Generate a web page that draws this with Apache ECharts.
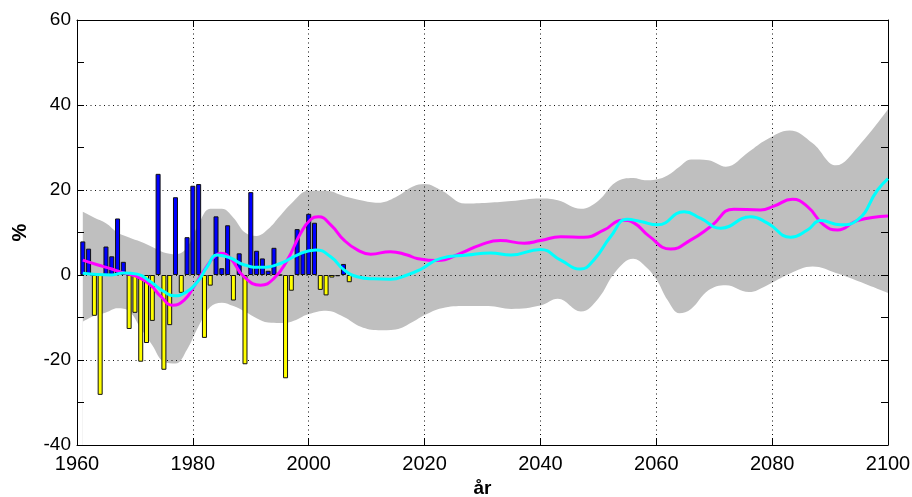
<!DOCTYPE html>
<html>
<head>
<meta charset="utf-8">
<script src="https://cdn.jsdelivr.net/npm/echarts@6/dist/echarts.min.js"></script>
<style>
  html, body { margin: 0; padding: 0; background: #fff; }
  #chart { width: 912px; height: 497px; }
</style>
</head>
<body>
<div id="chart"></div>
<script>
// Axis ticks
const xTicks = [1960, 1980, 2000, 2020, 2040, 2060, 2080, 2100];
const yTicks = [-40, -20, 0, 20, 40, 60];

// Observed yearly anomalies (%)
const barYears = [
  1961, 1962, 1963, 1964, 1965, 1966, 1967, 1968, 1969, 1970,
  1971, 1972, 1973, 1974, 1975, 1976, 1977, 1978, 1979, 1980,
  1981, 1982, 1983, 1984, 1985, 1986, 1987, 1988, 1989, 1990,
  1991, 1992, 1993, 1994, 1995, 1996, 1997, 1998, 1999, 2000,
  2001, 2002, 2003, 2004, 2005, 2006, 2007
];
const barValues = [
  7.9, 6.2, -9.6, -28.2, 6.7, 4.4, 13.3, 3.1, -12.7, -8.9,
  -20.4, -16.0, -10.8, 23.8, -22.3, -11.8, 18.3, -4.2, 8.9, 21.0,
  21.4, -14.8, -2.5, 13.8, 1.6, 11.7, -6.0, 5.1, -21.0, 19.5,
  5.7, 3.9, 1.0, 6.4, 0.0, -24.3, -3.7, 10.8, 5.3, 14.4,
  12.3, -3.5, -4.8, -0.6, -0.3, 2.6, -1.7
];

// Model spread (lower and upper envelope, %)
const bandYears = [
  1961, 1963, 1965, 1967, 1969, 1971, 1973, 1975, 1977, 1979,
  1981, 1983, 1985, 1987, 1989, 1991, 1993, 1995, 1997, 2000,
  2003, 2006, 2009, 2012, 2015, 2018, 2020, 2023, 2027, 2031,
  2035, 2040, 2043, 2047, 2050, 2053, 2056, 2058, 2060, 2062,
  2064, 2066, 2069, 2072, 2076, 2079, 2083, 2087, 2091, 2095, 2100
];
const bandLow = [
  -11.0, -9.6, -8.8, -7.8, -8.5, -12.5, -16.5, -20.4, -20.8, -17.5,
  -12.0, -7.5, -6.5, -7.3, -8.6, -10.2, -11.2, -11.3, -11.0, -9.2,
  -8.4, -9.8, -12.2, -13.0, -12.8, -11.0, -9.4, -7.8, -7.3, -7.3,
  -8.0, -7.2, -5.6, -8.6, -5.5, 0.8, 3.8, 2.2, -1.0, -6.0,
  -9.0, -8.0, -3.6, -2.4, -4.0, -2.5, 0.3, 2.0, 0.5, -1.5, -4.2
];
const bandHigh = [
  14.9, 13.5, 12.2, 10.0, 8.8, 7.8, 6.6, 5.3, 4.9, 6.5,
  12.0, 15.6, 15.6, 13.5, 10.0, 9.2, 10.8, 13.8, 16.8, 19.8,
  19.8, 18.6, 17.6, 17.0, 18.3, 20.8, 21.4, 19.8, 16.8, 17.0,
  17.4, 18.0, 17.6, 15.6, 17.5, 21.8, 22.8, 22.3, 22.5, 23.5,
  25.5, 27.2, 27.0, 25.5, 29.0, 31.8, 34.0, 31.0, 25.8, 30.5, 39.0
];

// Smoothed curve (magenta)
const magentaYears = [
  1961, 1963.5, 1966, 1968, 1970.4, 1972.7, 1974.5, 1976.5, 1978.5, 1980.2,
  1982, 1983.7, 1984.8, 1986.5, 1988.8, 1991.7, 1994, 1996.3, 1998.6, 2000.3,
  2001.7, 2003.8, 2006.1, 2008.4, 2010.7, 2014.1, 2017, 2018.7, 2022.2, 2026.2,
  2029.7, 2033.1, 2037.2, 2040, 2043.5, 2047.5, 2051, 2054.1, 2056.2, 2058.7,
  2062.5, 2065.9, 2069.4, 2073.4, 2078, 2080.3, 2083.5, 2086.1, 2088.9, 2091.3,
  2094.7, 2100
];
const magentaValues = [
  3.5, 2.4, 1.4, 0.5, -0.4, -2.4, -5.1, -7.1, -5.9, -2.7,
  1.2, 4.3, 5.1, 3.9, -0.4, -2.4, -0.8, 3.5, 9.8, 13.0,
  13.7, 11.8, 8.2, 5.9, 4.9, 5.5, 4.7, 3.9, 3.4, 5.1,
  7.1, 8.1, 7.5, 8.1, 9.0, 8.9, 10.6, 12.9, 12.2, 9.2,
  6.1, 8.2, 11.4, 15.5, 15.3, 16.2, 17.8, 16.1, 11.8, 10.6,
  12.8, 13.9
];

// Smoothed curve (cyan)
const cyanYears = [
  1961, 1963.5, 1966, 1968, 1970.4, 1972.7, 1975, 1976.8, 1978.5, 1980.8,
  1982.5, 1984.2, 1986.5, 1988.8, 1991.7, 1995.1, 1998, 2001.2, 2003.8, 2006.1,
  2008.4, 2011.2, 2014.1, 2017, 2019.3, 2022.8, 2027.4, 2031.4, 2034.9, 2040,
  2043.5, 2046.9, 2049.2, 2052.1, 2055, 2057.3, 2060.2, 2064.8, 2067.7, 2071.1,
  2076.3, 2079.2, 2083.2, 2086.1, 2088.4, 2091.8, 2094.7, 2098.2, 2100
];
const cyanValues = [
  0.4, 0.1, 0.0, 0.5, 0.2, -1.6, -3.9, -4.9, -4.3, -1.6,
  2.0, 4.7, 4.0, 2.4, 1.8, 2.7, 4.7, 5.9, 4.3, 1.2,
  -0.4, -0.9, -1.0, 0.0, 1.3, 3.9, 4.7, 5.2, 4.7, 6.0,
  3.5, 1.4, 3.5, 9.0, 13.1, 12.6, 11.8, 14.9, 13.3, 11.0,
  13.7, 12.2, 8.9, 10.6, 12.8, 11.8, 12.9, 20.0, 22.7
];

const FONT = '"Liberation Sans", Arial, Helvetica, sans-serif';
const pairs = (xs, ys) => xs.map((x, i) => [x, ys[i]]);

const xRange = { min: xTicks[0], max: xTicks[xTicks.length - 1], interval: xTicks[1] - xTicks[0] };
const yRange = { min: yTicks[0], max: yTicks[yTicks.length - 1], interval: yTicks[1] - yTicks[0] };

const frameLine = { show: true, onZero: false, lineStyle: { color: '#000', width: 1 } };
const inTick = { show: true, inside: true, length: 7, lineStyle: { color: '#000', width: 1 } };
const gridDots = { show: true, lineStyle: { color: '#111', width: 1, type: [1, 3.5] } };
const plain = v => String(v);

const chart = echarts.init(document.getElementById('chart'), null, { renderer: 'canvas' });

chart.setOption({
  animation: false,
  backgroundColor: '#fff',
  grid: { left: 77, right: 24, top: 20, bottom: 52, outerBoundsMode: 'none', containLabel: false },
  xAxis: [
    {
      type: 'value', position: 'bottom', z: 2, ...xRange,
      axisLine: frameLine, axisTick: inTick, splitLine: gridDots,
      axisLabel: { color: '#000', fontSize: 20, fontFamily: FONT, margin: 9, formatter: plain, showMinLabel: true, showMaxLabel: true },
      name: 'år', nameLocation: 'middle', nameGap: 34,
      nameTextStyle: { color: '#000', fontSize: 19, fontWeight: 'bold', fontFamily: FONT }
    },
    {
      type: 'value', position: 'top', z: 2, ...xRange,
      axisLine: frameLine, axisTick: inTick, splitLine: { show: false }, axisLabel: { show: false }
    }
  ],
  yAxis: [
    {
      type: 'value', position: 'left', z: 2, ...yRange,
      axisLine: frameLine, axisTick: inTick, splitLine: gridDots,
      minorTick: { show: true, splitNumber: 2, length: 7, lineStyle: { color: '#000', width: 1 } },
      axisLabel: { color: '#000', fontSize: 19, fontFamily: FONT, margin: 6, formatter: plain, showMinLabel: true, showMaxLabel: true },
      name: '%', nameLocation: 'middle', nameGap: 47, nameRotate: 90,
      nameTextStyle: { color: '#000', fontSize: 20, fontWeight: 'bold', fontFamily: FONT }
    },
    {
      type: 'value', position: 'right', z: 2, ...yRange,
      axisLine: frameLine, axisTick: inTick, splitLine: { show: false }, axisLabel: { show: false },
      minorTick: { show: true, splitNumber: 2, length: 7, lineStyle: { color: '#000', width: 1 } }
    }
  ],
  series: [
    // spread envelope: grey fill under the upper edge, white fill under the lower edge
    {
      type: 'line', data: pairs(bandYears, bandHigh),
      smooth: 0.4, symbol: 'none', silent: true, z: 1,
      lineStyle: { width: 0, opacity: 0 },
      areaStyle: { color: '#bfbfbf', opacity: 1, origin: 'start' }
    },
    {
      type: 'line', data: pairs(bandYears, bandLow),
      smooth: 0.4, symbol: 'none', silent: true, z: 1,
      lineStyle: { width: 0, opacity: 0 },
      areaStyle: { color: '#ffffff', opacity: 1, origin: 'start' }
    },
    {
      type: 'bar', data: pairs(barYears, barValues), barWidth: 5, z: 3,
      itemStyle: {
        color: p => (p.value[1] >= 0 ? '#0000ff' : '#ffff00'),
        borderColor: '#111', borderWidth: 1
      }
    },
    {
      type: 'line', data: pairs(magentaYears, magentaValues), smooth: 0.5,
      symbol: 'none', z: 4, lineStyle: { color: '#ff00ff', width: 3 }
    },
    {
      type: 'line', data: pairs(cyanYears, cyanValues), smooth: 0.5,
      symbol: 'none', z: 4, lineStyle: { color: '#00ffff', width: 3 }
    }
  ]
});
</script>
</body>
</html>
